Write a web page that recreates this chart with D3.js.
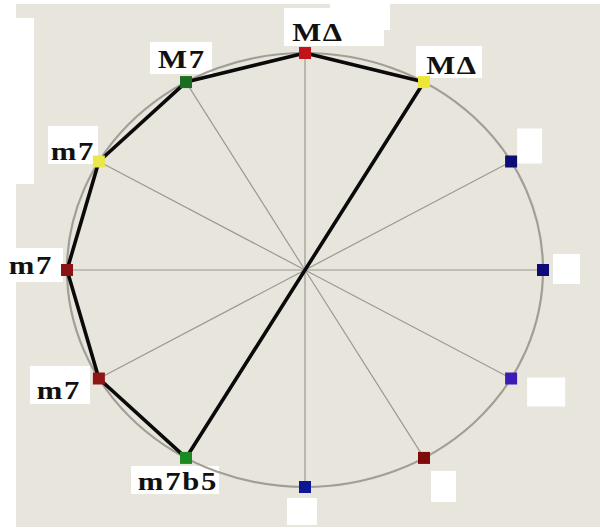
<!DOCTYPE html>
<html><head><meta charset="utf-8">
<script src="https://cdn.jsdelivr.net/npm/d3@7"></script>
<style>html,body{margin:0;padding:0;background:#fff;}svg{display:block;}</style>
</head><body>
<script>
// ---- data ----
const positions = [0,1,2,3,4,5,6,7,8,9,10,11];
const chordLabels = ["M\u0394","M\u0394","","","","","","m7b5","m7","m7","m7","M7"];
const markerColors = ["#c3121c","#ece636","#0c0c74","#0c0c74","#3c1cb4","#7e0a0a","#0e1696","#1c8a22","#8e1616","#8a1414","#e8e84a","#1c6c22"];
const pathOrder = [7,8,9,10,11,0,1];

const W=600,H=531;
const svg=d3.select("body").append("svg").attr("width",W).attr("height",H);
const bg = "#e8e5dc";
svg.append("rect").attr("width",W).attr("height",H).attr("fill",bg);

const cx=305, cy=270, rx=238, ry=217;
const ang=d3.scaleLinear().domain([0,12]).range([0,2*Math.PI]);
const px=i=>cx+rx*Math.sin(ang(i));
const py=i=>cy-ry*Math.cos(ang(i));

// white scan patches
const g0=svg.append("g").attr("fill","#ffffff");
[[0,0,16,531],[16,18,18,166],[0,0,600,4],[0,527,600,4]].forEach(r=>g0.append("rect").attr("x",r[0]).attr("y",r[1]).attr("width",r[2]).attr("height",r[3]));
[[284,8,100,38],[330,4,60,26],[416,46,66,32],[150,42,62,32],[48,126,50,38],[5,248,58,34],[30,366,60,38],[131,466,88,28]].forEach(r=>g0.append("rect").attr("x",r[0]).attr("y",r[1]).attr("width",r[2]).attr("height",r[3]));
// blank label patches for unlabelled points
const blankOff={2:[6,-33,25,35],3:[10,-16,27,30],4:[16,-1,38,29],5:[7,13,25,31],6:[-18,11,30,27]};
Object.keys(blankOff).forEach(k=>{const o=blankOff[k];g0.append("rect").attr("x",px(+k)+o[0]).attr("y",py(+k)+o[1]).attr("width",o[2]).attr("height",o[3]);});

// circle
svg.append("ellipse").attr("cx",cx).attr("cy",cy).attr("rx",rx).attr("ry",ry)
  .attr("fill","none").attr("stroke","#a29e97").attr("stroke-width",2.2);
// spokes
svg.append("g").selectAll("line").data(positions).join("line")
  .attr("x1",cx).attr("y1",cy).attr("x2",px).attr("y2",py)
  .attr("stroke","#9c9891").attr("stroke-width",1.2);

// progression polygon
const line=d3.line().x(px).y(py).curve(d3.curveLinearClosed);
svg.append("path").attr("d",line(pathOrder)).attr("fill","none")
  .attr("stroke","#0a0a0a").attr("stroke-width",3.6).attr("stroke-linejoin","round");

// markers
svg.append("g").selectAll("rect").data(positions).join("rect")
  .attr("x",i=>px(i)-6).attr("y",i=>py(i)-6).attr("width",12).attr("height",12)
  .attr("fill",i=>markerColors[i]);

// labels
const lOff={0:[13,-12],1:[28,-8],11:[-4,-14],10:[-26,-2],9:[-36,4],8:[-40,20],7:[-8,32]};
svg.append("g").selectAll("text").data(positions.filter(i=>chordLabels[i])).join("text")
  .attr("transform",i=>`translate(${px(i)+lOff[i][0]},${py(i)+lOff[i][1]}) scale(1.18,1)`)
  .attr("text-anchor","middle")
  .attr("font-family","'Liberation Serif','Times New Roman',serif")
  .attr("font-weight","bold").attr("font-size",26).attr("letter-spacing",1.5)
  .attr("fill","#111").text(i=>chordLabels[i]);
</script>
</body></html>
